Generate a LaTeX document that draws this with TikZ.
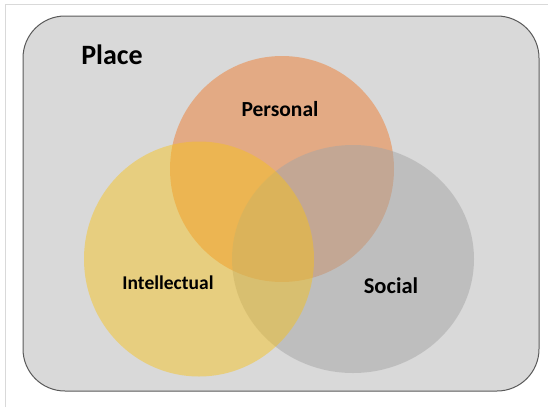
\documentclass[tikz,border=0pt]{standalone}
\usepackage{fontspec}
\setmainfont{Carlito}
\usetikzlibrary{shapes.geometric}
\definecolor{placefill}{HTML}{D9D9D9}
\definecolor{placeline}{HTML}{5A5A5A}
\definecolor{personalcol}{HTML}{ED7D31}
\definecolor{socialcol}{HTML}{A5A5A5}
\definecolor{intellcol}{HTML}{F7C21A}
\begin{document}
\begin{tikzpicture}[x=1pt,y=-1pt]

        \useasboundingbox (0,0) rectangle (548,407);
        \draw[black!15] (5,407) -- (5,4) -- (548,4);

        \draw[placeline, fill=placefill, rounded corners=42pt, line width=1pt]
          (23,16) rectangle (539,391);

        \begin{scope}[every node/.style={ellipse, inner sep=0pt, fill opacity=.5}]
          \node[fill=personalcol, minimum width=224pt, minimum height=226pt] (p) at (282,169) {};
          \node[fill=socialcol,   minimum width=242pt, minimum height=228pt] (s) at (353,259) {};
          \node[fill=intellcol,   minimum width=230pt, minimum height=235pt, fill opacity=.47] (i) at (199,259) {};
        \end{scope}

        \begin{scope}[every node/.style={font=\bfseries, text=black}]
          \node[font=\fontsize{28}{30}\bfseries] (place) at (112,55) {Place};
          \node[font=\fontsize{21.5}{24}\bfseries] (pl) at (280,109) {Personal};
          \node[font=\fontsize{19.5}{22}\bfseries] (il) at (168,283) {Intellectual};
          \node[font=\fontsize{22.5}{24}\bfseries] (sl) at (391,286) {Social};
        \end{scope}

      \end{tikzpicture}
\end{document}
